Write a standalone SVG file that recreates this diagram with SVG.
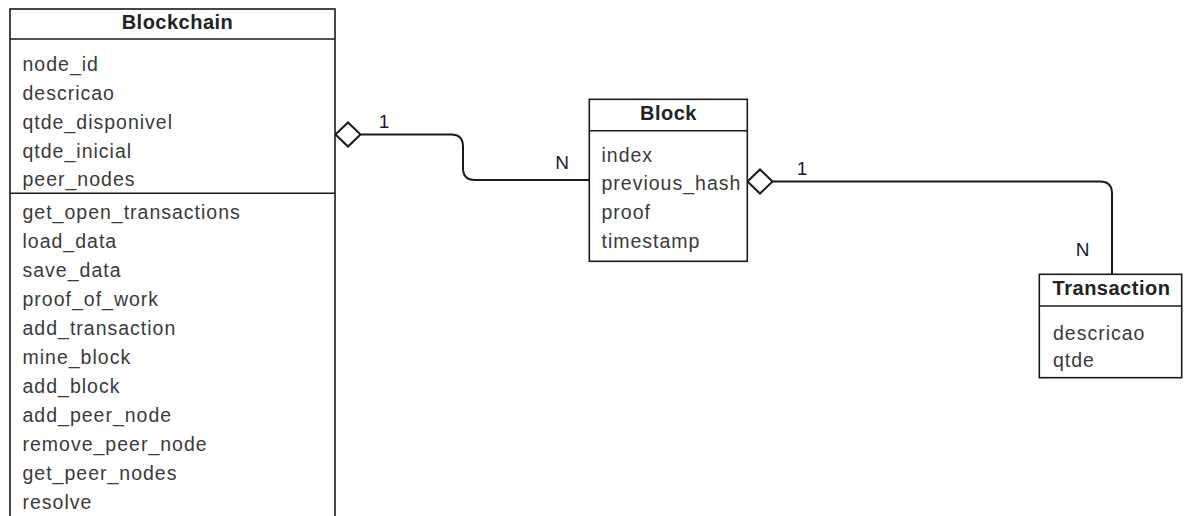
<svg xmlns="http://www.w3.org/2000/svg" width="1184" height="516" viewBox="0 0 1184 516">
<style>
.box{fill:#fff;stroke:#1a1a1a;stroke-width:1.6}
.div{stroke:#1a1a1a;stroke-width:1.6;fill:none}
.title{font-family:"Liberation Sans",Arial,sans-serif;font-size:20px;font-weight:bold;fill:#222;letter-spacing:0.5px}
.attr{font-family:"Liberation Sans",Arial,sans-serif;font-size:19.5px;fill:#3a3a3a;letter-spacing:1px}
.lbl{font-family:"Liberation Sans",Arial,sans-serif;font-size:19px;fill:#1a1a33;text-anchor:middle}
.edge{fill:none;stroke:#1a1a1a;stroke-width:2}
.dia{fill:#fff;stroke:#1a1a1a;stroke-width:2}
</style>
<rect width="1184" height="516" fill="#fff"/>
<g id="connectors">
  <path class="edge" d="M360.5,134.5 H451 Q463,134.5 463,146.5 V168 Q463,180 475,180 H589"/>
  <path class="dia" d="M335.5,134.5 L348,122.5 L360.5,134.5 L348,146.5 Z"/>
  <text class="lbl" x="384" y="128">1</text>
  <text class="lbl" x="562" y="168.5">N</text>
  <path class="edge" d="M772,181.5 H1100 Q1112,181.5 1112,193.5 V274.5"/>
  <path class="dia" d="M747.5,181.5 L760,169.5 L772.5,181.5 L760,193.5 Z"/>
  <text class="lbl" x="802" y="175">1</text>
  <text class="lbl" x="1082.5" y="256">N</text>
</g>
<g id="blockchain">
  <rect class="box" x="10" y="9" width="325" height="530"/>
  <line class="div" x1="10" y1="39" x2="335" y2="39"/>
  <line class="div" x1="10" y1="193.3" x2="335" y2="193.3"/>
  <text class="title" x="177.5" y="28.5" text-anchor="middle">Blockchain</text>
  <text class="attr" x="22.5" y="71">node_id</text>
  <text class="attr" x="22.5" y="100">descricao</text>
  <text class="attr" x="22.5" y="129">qtde_disponivel</text>
  <text class="attr" x="22.5" y="157.5">qtde_inicial</text>
  <text class="attr" x="22.5" y="186">peer_nodes</text>
  <text class="attr" x="22.5" y="219">get_open_transactions</text>
  <text class="attr" x="22.5" y="248">load_data</text>
  <text class="attr" x="22.5" y="277">save_data</text>
  <text class="attr" x="22.5" y="306">proof_of_work</text>
  <text class="attr" x="22.5" y="335">add_transaction</text>
  <text class="attr" x="22.5" y="364">mine_block</text>
  <text class="attr" x="22.5" y="393">add_block</text>
  <text class="attr" x="22.5" y="422">add_peer_node</text>
  <text class="attr" x="22.5" y="451">remove_peer_node</text>
  <text class="attr" x="22.5" y="480">get_peer_nodes</text>
  <text class="attr" x="22.5" y="509">resolve</text>
</g>
<g id="block">
  <rect class="box" x="589.3" y="99.3" width="158" height="162"/>
  <line class="div" x1="589.3" y1="130.7" x2="747.3" y2="130.7"/>
  <text class="title" x="668.5" y="120" text-anchor="middle">Block</text>
  <text class="attr" x="601.5" y="161.5">index</text>
  <text class="attr" x="601.5" y="190">previous_hash</text>
  <text class="attr" x="601.5" y="219">proof</text>
  <text class="attr" x="601.5" y="248">timestamp</text>
</g>
<g id="transaction">
  <rect class="box" x="1039.3" y="274.3" width="142.4" height="103.4"/>
  <line class="div" x1="1039.3" y1="306" x2="1181.7" y2="306"/>
  <text class="title" x="1111.5" y="295" text-anchor="middle">Transaction</text>
  <text class="attr" x="1053" y="339.5">descricao</text>
  <text class="attr" x="1053" y="367">qtde</text>
</g>
</svg>
